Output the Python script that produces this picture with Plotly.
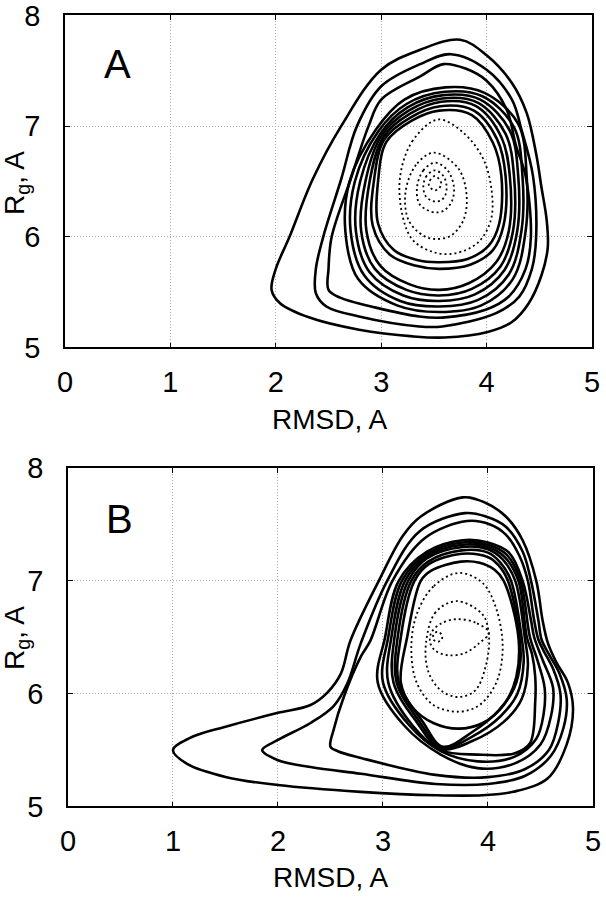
import plotly.graph_objects as go

# ---------------- Panel A contour lines (RMSD, Rg) ----------------
A_solid = [
    ([3.75, 3.37, 3.00, 2.62, 2.35, 2.13, 2.00, 1.96, 2.04, 2.32, 2.79, 3.30, 3.60, 4.01, 4.24, 4.40, 4.52, 4.58, 4.57, 4.52, 4.47, 4.38, 4.24, 4.00],
     [7.78, 7.69, 7.51, 7.00, 6.52, 6.00, 5.71, 5.52, 5.40, 5.27, 5.16, 5.10, 5.09, 5.14, 5.23, 5.40, 5.65, 5.90, 6.15, 6.45, 6.75, 7.12, 7.39, 7.64]),
    ([3.66, 3.37, 3.00, 2.77, 2.62, 2.45, 2.38, 2.38, 2.48, 2.79, 3.36, 3.58, 4.09, 4.31, 4.43, 4.47, 4.44, 4.33, 4.24, 4.00],
     [7.65, 7.56, 7.36, 7.00, 6.52, 6.00, 5.71, 5.49, 5.37, 5.28, 5.19, 5.19, 5.31, 5.46, 5.71, 6.00, 6.55, 6.97, 7.24, 7.51]),
    ([3.59, 3.37, 3.00, 2.88, 2.71, 2.53, 2.50, 2.50, 2.61, 2.95, 3.36, 3.58, 3.99, 4.21, 4.37, 4.42, 4.37, 4.28, 4.19, 4.00, 3.80],
     [7.56, 7.45, 7.24, 7.00, 6.52, 6.00, 5.71, 5.52, 5.45, 5.36, 5.28, 5.27, 5.34, 5.46, 5.71, 6.00, 6.55, 6.82, 7.15, 7.41, 7.52]),
    ([3.61, 3.22, 2.95, 2.70, 2.66, 2.78, 3.15, 3.55, 3.95, 4.25, 4.37, 4.38, 4.30, 3.98],
     [7.35, 7.24, 6.97, 6.50, 6.05, 5.62, 5.38, 5.32, 5.38, 5.62, 6.05, 6.55, 7.02, 7.30]),
    ([3.60, 3.24, 2.97, 2.75, 2.71, 2.84, 3.18, 3.55, 3.92, 4.21, 4.33, 4.34, 4.26, 3.96],
     [7.31, 7.20, 6.95, 6.50, 6.05, 5.65, 5.42, 5.37, 5.43, 5.66, 6.05, 6.55, 6.99, 7.27]),
    ([3.59, 3.25, 2.99, 2.80, 2.76, 2.89, 3.21, 3.55, 3.89, 4.17, 4.29, 4.30, 4.22, 3.94],
     [7.28, 7.17, 6.93, 6.50, 6.05, 5.68, 5.47, 5.42, 5.48, 5.70, 6.05, 6.55, 6.96, 7.24]),
    ([3.58, 3.26, 3.00, 2.85, 2.81, 2.94, 3.24, 3.55, 3.86, 4.13, 4.25, 4.26, 4.18, 3.92],
     [7.25, 7.14, 6.91, 6.50, 6.05, 5.71, 5.52, 5.47, 5.53, 5.73, 6.05, 6.55, 6.93, 7.21]),
    ([3.57, 3.27, 3.02, 2.89, 2.86, 2.99, 3.27, 3.55, 3.83, 4.09, 4.21, 4.22, 4.14, 3.90],
     [7.22, 7.11, 6.90, 6.50, 6.05, 5.74, 5.57, 5.52, 5.58, 5.77, 6.05, 6.55, 6.90, 7.18]),
    ([3.56, 3.28, 3.03, 2.93, 2.92, 3.08, 3.32, 3.55, 3.85, 4.06, 4.16, 4.18, 4.10, 3.88],
     [7.18, 7.08, 6.88, 6.50, 6.10, 5.84, 5.74, 5.71, 5.75, 5.88, 6.10, 6.55, 6.88, 7.14]),
    ([3.55, 3.29, 3.05, 2.97, 2.97, 3.12, 3.34, 3.55, 3.82, 4.02, 4.12, 4.14, 4.06, 3.86],
     [7.14, 7.05, 6.86, 6.50, 6.12, 5.88, 5.79, 5.77, 5.80, 5.92, 6.12, 6.55, 6.85, 7.10]),
]
A_dotted = [
    ([3.54, 3.30, 3.18, 3.20, 3.30, 3.50, 3.70, 3.92, 4.04, 4.05, 3.97, 3.78],
     [7.06, 6.87, 6.55, 6.20, 5.97, 5.86, 5.85, 5.95, 6.15, 6.40, 6.70, 6.94]),
    ([3.50, 3.33, 3.23, 3.26, 3.40, 3.52, 3.66, 3.78, 3.81, 3.73],
     [6.76, 6.65, 6.40, 6.15, 6.01, 5.98, 6.01, 6.15, 6.38, 6.62]),
    ([3.51, 3.40, 3.34, 3.36, 3.44, 3.52, 3.60, 3.67, 3.69, 3.63],
     [6.67, 6.60, 6.45, 6.30, 6.24, 6.22, 6.24, 6.32, 6.45, 6.60]),
    ([3.51, 3.43, 3.40, 3.42, 3.47, 3.52, 3.57, 3.61, 3.62, 3.59],
     [6.60, 6.55, 6.46, 6.37, 6.33, 6.32, 6.33, 6.38, 6.46, 6.55]),
    ([3.51, 3.47, 3.45, 3.47, 3.51, 3.55, 3.57, 3.55],
     [6.55, 6.52, 6.48, 6.44, 6.42, 6.44, 6.48, 6.52]),
]

# ---------------- Panel B contour lines ----------------
B_solid = [
    ([3.76, 3.36, 3.19, 2.96, 2.69, 2.60, 2.47, 2.31, 2.00, 1.51, 1.19, 1.00, 1.13, 1.51, 2.00, 2.79, 3.50, 3.95, 4.24, 4.57, 4.75, 4.81, 4.76, 4.65, 4.57, 4.52, 4.46, 4.33, 4.17, 3.98],
     [7.74, 7.57, 7.40, 7.00, 6.47, 6.18, 6.01, 5.90, 5.83, 5.71, 5.62, 5.50, 5.38, 5.26, 5.19, 5.13, 5.10, 5.10, 5.13, 5.25, 5.55, 5.87, 6.10, 6.28, 6.45, 6.65, 7.00, 7.36, 7.57, 7.69]),
    ([3.78, 3.35, 3.04, 2.79, 2.66, 2.53, 2.31, 2.00, 1.85, 2.00, 2.31, 2.79, 3.50, 4.00, 4.35, 4.60, 4.72, 4.75, 4.68, 4.58, 4.51, 4.48, 4.41, 4.33, 4.17, 3.98],
     [7.60, 7.44, 7.00, 6.45, 6.09, 5.89, 5.74, 5.59, 5.50, 5.41, 5.35, 5.29, 5.20, 5.20, 5.27, 5.45, 5.70, 5.95, 6.18, 6.35, 6.48, 6.65, 7.00, 7.26, 7.48, 7.57]),
    ([3.80, 3.40, 3.09, 2.88, 2.79, 2.63, 2.53, 2.50, 2.57, 2.79, 3.50, 4.00, 4.35, 4.58, 4.67, 4.69, 4.62, 4.53, 4.48, 4.44, 4.38, 4.30, 4.17, 4.02],
     [7.53, 7.38, 7.00, 6.47, 6.33, 5.98, 5.68, 5.53, 5.49, 5.43, 5.28, 5.26, 5.33, 5.50, 5.75, 6.00, 6.22, 6.38, 6.48, 6.65, 7.00, 7.22, 7.41, 7.50]),
    ([3.76, 3.42, 3.15, 3.02, 2.95, 3.20, 3.55, 3.90, 4.25, 4.50, 4.60, 4.62, 4.52, 4.44, 4.41, 4.33, 4.20, 4.00],
     [7.36, 7.26, 7.00, 6.50, 6.10, 5.72, 5.46, 5.34, 5.38, 5.55, 5.80, 6.05, 6.30, 6.50, 6.65, 7.00, 7.25, 7.34]),
    ([3.76, 3.42, 3.18, 3.05, 3.00, 3.25, 3.55, 3.90, 4.25, 4.46, 4.53, 4.54, 4.47, 4.40, 4.31, 4.18, 4.00],
     [7.34, 7.24, 7.00, 6.50, 6.10, 5.72, 5.49, 5.40, 5.44, 5.60, 5.82, 6.05, 6.30, 6.50, 7.00, 7.23, 7.32]),
    ([3.76, 3.42, 3.21, 3.08, 3.05, 3.28, 3.55, 3.90, 4.25, 4.40, 4.45, 4.45, 4.42, 4.37, 4.29, 4.16, 4.00],
     [7.32, 7.22, 7.00, 6.50, 6.10, 5.72, 5.50, 5.46, 5.47, 5.56, 5.93, 6.15, 6.35, 6.50, 7.00, 7.21, 7.30]),
    ([3.76, 3.42, 3.24, 3.11, 3.10, 3.32, 3.55, 3.85, 4.15, 4.32, 4.38, 4.35, 4.26, 4.14, 4.00],
     [7.30, 7.20, 7.00, 6.50, 6.10, 5.75, 5.51, 5.58, 5.75, 5.95, 6.25, 6.50, 7.00, 7.19, 7.28]),
    ([3.75, 3.43, 3.27, 3.14, 3.13, 3.35, 3.56, 3.85, 4.12, 4.28, 4.34, 4.32, 4.22, 4.12, 4.00],
     [7.27, 7.17, 7.00, 6.50, 6.10, 5.75, 5.52, 5.62, 5.80, 6.00, 6.28, 6.50, 7.00, 7.16, 7.25]),
    ([3.75, 3.44, 3.30, 3.17, 3.15, 3.38, 3.57, 3.85, 4.10, 4.25, 4.31, 4.30, 4.19, 4.10, 4.00],
     [7.24, 7.15, 7.00, 6.50, 6.10, 5.75, 5.53, 5.66, 5.85, 6.05, 6.30, 6.50, 7.00, 7.14, 7.21]),
    ([3.74, 3.46, 3.36, 3.23, 3.17, 3.28, 3.48, 3.72, 3.95, 4.15, 4.27, 4.29, 4.15, 4.06, 3.92],
     [7.17, 7.09, 7.00, 6.50, 6.10, 5.88, 5.74, 5.69, 5.74, 5.90, 6.15, 6.50, 7.00, 7.10, 7.16]),
]
B_dotted = [
    ([3.72, 3.48, 3.32, 3.27, 3.32, 3.48, 3.72, 3.92, 4.08, 4.14, 4.08, 3.95],
     [7.07, 6.95, 6.70, 6.40, 6.10, 5.90, 5.84, 5.90, 6.10, 6.40, 6.75, 6.98]),
    ([3.70, 3.50, 3.41, 3.43, 3.55, 3.72, 3.88, 3.98, 4.01, 3.95],
     [6.82, 6.72, 6.45, 6.20, 6.03, 5.97, 6.03, 6.25, 6.50, 6.70]),
    ([4.01, 3.88, 3.70, 3.55, 3.46, 3.45, 3.50, 3.62, 3.78, 3.92],
     [6.54, 6.63, 6.66, 6.62, 6.54, 6.45, 6.38, 6.34, 6.36, 6.45]),
    ([3.52, 3.48, 3.48, 3.52, 3.56, 3.56],
     [6.55, 6.52, 6.48, 6.46, 6.48, 6.52]),
]

x_ticks = [0, 1, 2, 3, 4, 5]
y_ticks = [5, 6, 7, 8]
panel_letters = ["A", "B"]
x_title = "RMSD, A"
y_title = "R<sub>g</sub>, A"

FONT = "Liberation Sans, Arial, Helvetica, sans-serif"

fig = go.Figure()


def add_curve(xs, ys, xa, ya, dotted):
    xs = list(xs) + [xs[0]]
    ys = list(ys) + [ys[0]]
    fig.add_trace(go.Scatter(
        x=xs, y=ys, mode="lines", xaxis=xa, yaxis=ya,
        line=dict(color="black", width=1.8 if dotted else 2.6,
                  dash="2px,3px" if dotted else "solid",
                  shape="spline", smoothing=1.0),
        hoverinfo="skip", showlegend=False))


for xs, ys in A_solid:
    add_curve(xs, ys, "x", "y", False)
for xs, ys in A_dotted:
    add_curve(xs, ys, "x", "y", True)
for xs, ys in B_solid:
    add_curve(xs, ys, "x2", "y2", False)
for xs, ys in B_dotted:
    add_curve(xs, ys, "x2", "y2", True)

axis_common = dict(
    showgrid=True, gridcolor="#a8a8a8", griddash="1px,2px", gridwidth=1,
    showline=True, linecolor="black", linewidth=1.5, mirror="ticks",
    ticks="inside", ticklen=5, tickcolor="black", zeroline=False,
    automargin=False, ticklabeloverflow="allow",
    tickfont=dict(family=FONT, size=29, color="black"),
)

xa = dict(axis_common, range=[0, 5], tickvals=x_ticks, ticklabelstandoff=8)
ya = dict(axis_common, range=[5, 8], tickvals=y_ticks, ticklabelstandoff=17)

title_font = dict(family=FONT, size=28, color="black")
letter_font = dict(family=FONT, size=40, color="black")

fig.update_layout(
    width=606, height=899,
    margin=dict(l=0, r=0, t=0, b=0, autoexpand=False),
    paper_bgcolor="white", plot_bgcolor="white",
    xaxis=dict(xa, domain=[0.1073, 0.9769], anchor="y"),
    yaxis=dict(ya, domain=[0.6135, 0.9828], anchor="x"),
    xaxis2=dict(xa, domain=[0.1122, 0.9785], anchor="y2"),
    yaxis2=dict(ya, domain=[0.1029, 0.4794], anchor="x2"),
    annotations=[
        dict(text=panel_letters[0], x=0.50, y=7.56, xref="x", yref="y", showarrow=False, font=letter_font),
        dict(text=panel_letters[1], x=0.49, y=7.55, xref="x2", yref="y2", showarrow=False, font=letter_font),
        dict(text=x_title, x=0.543, y=(899 - 420) / 899, xref="paper", yref="paper",
             showarrow=False, font=title_font, xanchor="center", yanchor="middle"),
        dict(text=x_title, x=0.545, y=(899 - 877) / 899, xref="paper", yref="paper",
             showarrow=False, font=title_font, xanchor="center", yanchor="middle"),
        dict(text=y_title, x=16 / 606, y=(899 - 183) / 899, xref="paper", yref="paper",
             showarrow=False, font=title_font, textangle=-90, xanchor="center", yanchor="middle"),
        dict(text=y_title, x=16 / 606, y=(899 - 638) / 899, xref="paper", yref="paper",
             showarrow=False, font=title_font, textangle=-90, xanchor="center", yanchor="middle"),
    ],
)

fig.write_html("out.html", config={"displayModeBar": False},
               post_script="document.body.style.margin='0';")
